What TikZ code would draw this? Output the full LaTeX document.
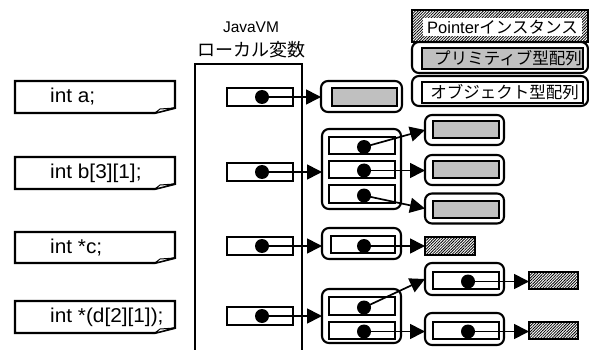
\documentclass[tikz,border=0pt]{standalone}
\usepackage{fontspec}
\setmainfont{Liberation Sans}
\newfontfamily\declfont{Liberation Sans}[FakeStretch=1.04]
\newfontfamily\jpfont{Noto Sans CJK JP}
\usetikzlibrary{arrows.meta,patterns.meta}
\definecolor{silver}{HTML}{C0C0C0}
\begin{document}
\begin{tikzpicture}[x=1pt,y=-1pt,
  rb/.style={draw, line width=2.1pt, rounded corners=7pt, inner sep=0pt, outer sep=0pt},
  sq/.style={draw, line width=2.1pt, inner sep=0pt, outer sep=0pt, fill=white},
  gr/.style={sq, fill=silver},
  hatch/.style={draw, line width=1.2pt, inner sep=0pt, outer sep=0pt, fill=white,
     postaction={pattern={Lines[angle=45,distance=2pt,line width=0.8pt]}}},
  declbox/.style={inner sep=0pt, outer sep=0pt, minimum width=160pt, minimum height=32pt},
  decltext/.style={anchor=west, inner sep=0pt, font=\declfont\fontsize{20pt}{22pt}\selectfont},
  jp/.style={inner sep=0pt, font=\jpfont\fontsize{16.5pt}{18pt}\selectfont},
  dotn/.style={circle, fill=black, inner sep=0pt, minimum size=14pt},
  ptr/.style={line width=1.7pt, -{Triangle[length=15pt,width=15pt]}}]
\fill[white] (0,0) rectangle (589,350);
\useasboundingbox (0,0) rectangle (589,350);

% ---- headings
\node[inner sep=0pt, font=\fontsize{15.5pt}{17pt}\selectfont] (hjava) at (251,27) {JavaVM};
\node[inner sep=0pt, font=\jpfont\fontsize{18pt}{20pt}\selectfont] (hlocal) at (251,50) {ローカル変数};

% ---- JavaVM frame
\coordinate (jbl) at (195,352);
\coordinate (jtl) at (195,64);
\coordinate (jtr) at (302,64);
\coordinate (jbr) at (302,352);
\draw[line width=1.7pt] (jbl) -- (jtl) -- (jtr) -- (jbr);

% ---- declaration notes
\foreach \nm/\cy/\h/\txt in {da/97/32/{int a;}, db/173/32/{int b[3][1];}, dc/247.5/31/{int *c;}, dd/317/32/{int *(d[2][1]);}}{
  \node[declbox, minimum height=\h pt] (\nm) at (95,\cy) {};
  \draw[line width=2.1pt, line join=miter] (\nm.north west) -- (\nm.north east) -- ([yshift=5pt]\nm.south east)
     -- ([xshift=-20pt]\nm.south east) -- (\nm.south west) -- cycle;
  \draw[line width=1pt, fill=white] ([xshift=-20pt]\nm.south east) -- ([xshift=-15pt,yshift=4pt]\nm.south east)
     -- ([yshift=5pt]\nm.south east) -- cycle;
  \node[decltext] (\nm t) at (50,\cy) {\txt};
}

% ---- JavaVM slots
\foreach \nm/\cy in {va/97, vb/172, vc/246, vd/316}{
  \node[sq, minimum width=66pt, minimum height=18pt] (\nm) at (260,\cy) {};
  \node[dotn] (\nm p) at (262,\cy) {};
}

% ---- a
\node[rb, minimum width=81pt, minimum height=31pt] (ta) at (361.5,96.5) {};
\node[gr, minimum width=65pt, minimum height=18pt] (ga) at (364.5,97) {};

% ---- b
\node[rb, minimum width=79pt, minimum height=80pt] (cb) at (361.5,169) {};
\node[sq, minimum width=66pt, minimum height=17pt] (sb1) at (362,145.5) {};
\node[sq, minimum width=66pt, minimum height=17pt] (sb2) at (362,169.5) {};
\node[sq, minimum width=66pt, minimum height=18pt] (sb3) at (362,194) {};
\node[dotn] (sb1p) at (364,147) {};
\node[dotn] (sb2p) at (364,170.5) {};
\node[dotn] (sb3p) at (364,195.5) {};
\foreach \nm/\cy/\gy in {tb1/130/129.5, tb2/170/169.5, tb3/208.5/209.5}{
  \node[rb, minimum width=79pt, minimum height=30pt] (\nm) at (464.5,\cy) {};
  \node[gr, minimum width=66pt, minimum height=17pt] (\nm g) at (466,\gy) {};
}

% ---- c
\node[rb, minimum width=79pt, minimum height=31pt] (cc) at (361.5,243.5) {};
\node[sq, minimum width=64pt, minimum height=17pt] (sc) at (363,244.5) {};
\node[dotn] (scp) at (364,246) {};
\node[hatch, minimum width=50pt, minimum height=18pt] (hc) at (450,246) {};

% ---- d
\node[rb, minimum width=79pt, minimum height=54pt] (cd) at (361.5,316) {};
\node[sq, minimum width=66pt, minimum height=18pt] (sd1) at (362,306) {};
\node[sq, minimum width=66pt, minimum height=17pt] (sd2) at (362,330.5) {};
\node[dotn] (sd1p) at (364,307.5) {};
\node[dotn] (sd2p) at (364,331.5) {};
\foreach \nm/\cy/\gy in {td1/279/280.5, td2/329/330.5}{
  \node[rb, minimum width=79pt, minimum height=32pt] (\nm) at (464.5,\cy) {};
  \node[sq, minimum width=66pt, minimum height=17pt] (\nm s) at (466,\gy) {};
  \node[dotn] (\nm p) at (468,\gy+1) {};
  \node[hatch, minimum width=49pt, minimum height=17pt] (\nm h) at (553.5,\gy) {};
}

% ---- connectors
\draw[ptr] (vap.center) -- (vap.center -| ta.west);
\draw[ptr] (vbp.center) -- (vbp.center -| cb.west);
\draw[ptr] (vcp.center) -- (vcp.center -| cc.west);
\draw[ptr] (vdp.center) -- (vdp.center -| cd.west);
\draw[ptr] (sb1p.center) -- (tb1.west);
\draw[ptr] (sb2p.center) -- (sb2p.center -| tb2.west);
\draw[ptr] (sb3p.center) -- (tb3.west);
\draw[ptr] (scp.center) -- (scp.center -| hc.west);
\draw[ptr] (sd1p.center) -- (td1.west);
\draw[ptr] (sd2p.center) -- (sd2p.center -| td2.west);
\draw[ptr] (td1p.center) -- (td1p.center -| td1h.west);
\draw[ptr] (td2p.center) -- (td2p.center -| td2h.west);

% ---- legend
\node[hatch, minimum width=176pt, minimum height=32pt] (lh) at (500,26) {};
\node[inner sep=0pt, outer sep=0pt, fill=white, minimum width=159pt, minimum height=18pt] (lhw) at (502.5,27) {};
\node[inner sep=0pt, font=\fontsize{16.5pt}{18pt}\selectfont] (lht) at (lhw.center) {Pointer{\jpfont インスタンス}};
\node[rb, minimum width=176pt, minimum height=31pt] (l1) at (500,57.5) {};
\node[gr, minimum width=161pt, minimum height=21pt] (l1g) at (502.5,58.5) {};
\node[jp] (l1t) at (508,58.5) {プリミティブ型配列};
\node[rb, minimum width=176pt, minimum height=30pt] (l2) at (500,91) {};
\node[sq, minimum width=161pt, minimum height=21pt] (l2g) at (502.5,92.5) {};
\node[jp] (l2t) at (504.5,92.5) {オブジェクト型配列};
\end{tikzpicture}
\end{document}
